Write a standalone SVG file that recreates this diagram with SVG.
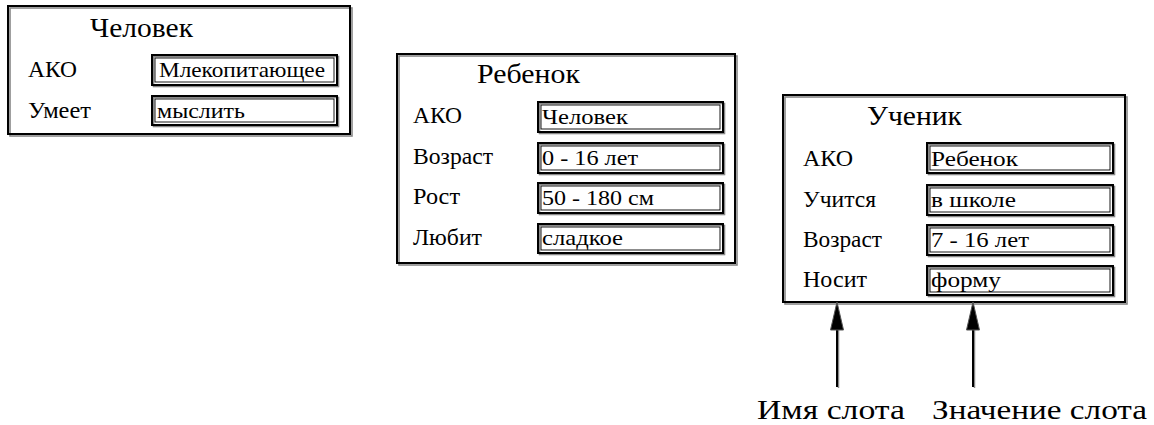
<svg xmlns="http://www.w3.org/2000/svg" width="1154" height="425" viewBox="0 0 1154 425">
<defs>
<style>
.fr{fill:none;stroke:#000;stroke-width:2}
.sh{fill:none;stroke:#888;stroke-width:1.6}
.vb{fill:none;stroke:#000;stroke-width:2}
.vi{fill:none;stroke:#000;stroke-width:0.9}
.t{font-size:27px}
.l{font-size:23px}
.v{font-size:22px}
.c{font-size:28px}
.ar{stroke:#000;stroke-width:2;fill:none}
.ash{stroke:#888;stroke-width:1.5;fill:none}
</style>
</defs>
<rect width="1154" height="425" fill="#fff"/>
<g font-family="'Times New Roman', serif" fill="#000">
<g id="node-chelovek">
<rect class="sh" x="10" y="8" width="342" height="128"/>
<rect class="fr" x="8" y="6" width="342" height="128"/>
<text class="t" x="90" y="37" textLength="103" lengthAdjust="spacingAndGlyphs">Человек</text>
<text class="l" x="28" y="77" textLength="49" lengthAdjust="spacingAndGlyphs">АКО</text>
<rect class="sh" x="153.5" y="56.5" width="185" height="30"/>
<rect class="vb" x="152" y="55" width="185" height="30"/>
<rect class="vi" x="155" y="58" width="179" height="24"/>
<text class="v" x="159" y="77" textLength="166" lengthAdjust="spacingAndGlyphs">Млекопитающее</text>
<text class="l" x="28" y="118" textLength="63" lengthAdjust="spacingAndGlyphs">Умеет</text>
<rect class="sh" x="153.5" y="97.5" width="185" height="29"/>
<rect class="vb" x="152" y="96" width="185" height="29"/>
<rect class="vi" x="155" y="99" width="179" height="23"/>
<text class="v" x="157" y="118" textLength="88" lengthAdjust="spacingAndGlyphs">мыслить</text>
</g>

<g id="node-rebenok">
<rect class="sh" x="399" y="56" width="338" height="209"/>
<rect class="fr" x="397" y="54" width="338" height="209"/>
<text class="t" x="477" y="83" textLength="103" lengthAdjust="spacingAndGlyphs">Ребенок</text>
<text class="l" x="413" y="123" textLength="49" lengthAdjust="spacingAndGlyphs">АКО</text>
<text class="l" x="413" y="164" textLength="80" lengthAdjust="spacingAndGlyphs">Возраст</text>
<text class="l" x="413" y="204" textLength="47" lengthAdjust="spacingAndGlyphs">Рост</text>
<text class="l" x="413" y="245" textLength="69" lengthAdjust="spacingAndGlyphs">Любит</text>
<rect class="sh" x="539.5" y="103.5" width="185" height="30"/>
<rect class="vb" x="538" y="102" width="185" height="30"/>
<rect class="vi" x="541" y="105" width="179" height="24"/>
<text class="v" x="542" y="124" textLength="86" lengthAdjust="spacingAndGlyphs">Человек</text>
<rect class="sh" x="539.5" y="144.5" width="185" height="30"/>
<rect class="vb" x="538" y="143" width="185" height="30"/>
<rect class="vi" x="541" y="146" width="179" height="24"/>
<text class="v" x="542" y="165" textLength="96" lengthAdjust="spacingAndGlyphs">0 - 16 лет</text>
<rect class="sh" x="539.5" y="184.5" width="185" height="30"/>
<rect class="vb" x="538" y="183" width="185" height="30"/>
<rect class="vi" x="541" y="186" width="179" height="24"/>
<text class="v" x="542" y="205" textLength="112" lengthAdjust="spacingAndGlyphs">50 - 180 см</text>
<rect class="sh" x="539.5" y="225.5" width="185" height="29"/>
<rect class="vb" x="538" y="224" width="185" height="29"/>
<rect class="vi" x="541" y="227" width="179" height="23"/>
<text class="v" x="542" y="245" textLength="81" lengthAdjust="spacingAndGlyphs">сладкое</text>
</g>

<g id="node-uchenik">
<rect class="sh" x="785" y="97" width="342" height="207"/>
<rect class="fr" x="783" y="95" width="342" height="207"/>
<text class="t" x="867" y="125" textLength="95" lengthAdjust="spacingAndGlyphs">Ученик</text>
<text class="l" x="803" y="166" textLength="50" lengthAdjust="spacingAndGlyphs">АКО</text>
<text class="l" x="803" y="207" textLength="73" lengthAdjust="spacingAndGlyphs">Учится</text>
<text class="l" x="803" y="247" textLength="79" lengthAdjust="spacingAndGlyphs">Возраст</text>
<text class="l" x="803" y="287" textLength="64" lengthAdjust="spacingAndGlyphs">Носит</text>
<rect class="sh" x="928.5" y="144.5" width="186" height="30"/>
<rect class="vb" x="927" y="143" width="186" height="30"/>
<rect class="vi" x="930" y="146" width="180" height="24"/>
<text class="v" x="931" y="166" textLength="87" lengthAdjust="spacingAndGlyphs">Ребенок</text>
<rect class="sh" x="928.5" y="186.5" width="186" height="30"/>
<rect class="vb" x="927" y="185" width="186" height="30"/>
<rect class="vi" x="930" y="188" width="180" height="24"/>
<text class="v" x="931" y="207" textLength="85" lengthAdjust="spacingAndGlyphs">в школе</text>
<rect class="sh" x="928.5" y="226.5" width="186" height="30"/>
<rect class="vb" x="927" y="225" width="186" height="30"/>
<rect class="vi" x="930" y="228" width="180" height="24"/>
<text class="v" x="931" y="247" textLength="98" lengthAdjust="spacingAndGlyphs">7 - 16 лет</text>
<rect class="sh" x="928.5" y="267.5" width="186" height="29"/>
<rect class="vb" x="927" y="266" width="186" height="29"/>
<rect class="vi" x="930" y="269" width="180" height="23"/>
<text class="v" x="931" y="287" textLength="70" lengthAdjust="spacingAndGlyphs">форму</text>
</g>

<g id="connectors">
<line class="ash" x1="838.5" y1="330" x2="838.5" y2="388"/>
<line class="ar" x1="837" y1="328" x2="837" y2="387"/>
<polygon points="837,302 830.5,330 843.5,330" fill="#000" stroke="#555" stroke-width="1"/>
<line class="ash" x1="974.5" y1="330" x2="974.5" y2="388"/>
<line class="ar" x1="973" y1="328" x2="973" y2="387"/>
<polygon points="973,302 966.5,330 979.5,330" fill="#000" stroke="#555" stroke-width="1"/>
</g>

<g id="captions">
<text class="c" x="757" y="419" textLength="148" lengthAdjust="spacingAndGlyphs">Имя слота</text>
<text class="c" x="932" y="419" textLength="215" lengthAdjust="spacingAndGlyphs">Значение слота</text>
</g>
</g>
</svg>
